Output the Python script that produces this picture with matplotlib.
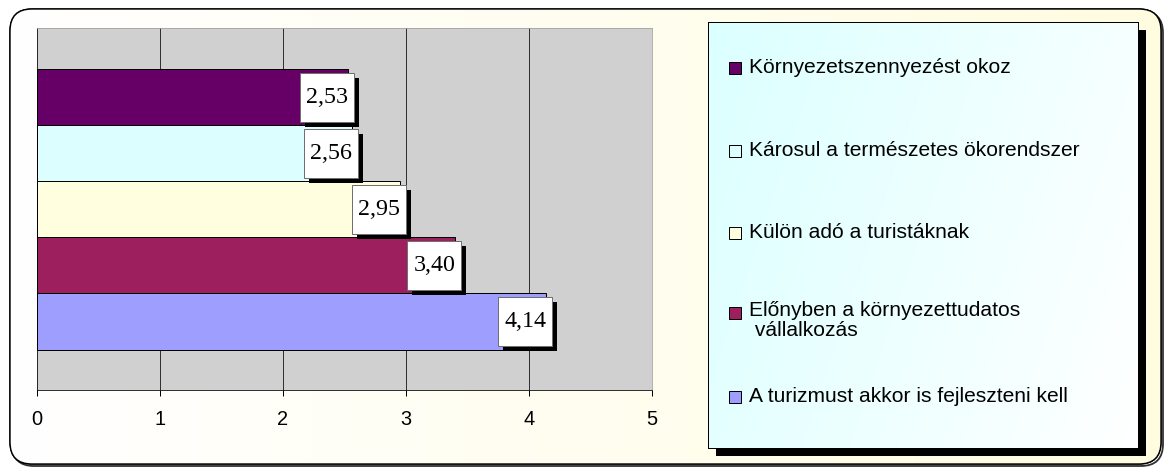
import numpy as np
import matplotlib.pyplot as plt
from matplotlib.patches import FancyBboxPatch, Rectangle
from matplotlib.offsetbox import DrawingArea, AnnotationBbox
from matplotlib.text import Text

# survey answers, listed top to bottom as they appear in the chart
categories = [
    "Környezetszennyezést okoz",
    "Károsul a természetes ökorendszer",
    "Külön adó a turistáknak",
    "Előnyben a környezettudatos\n vállalkozás",
    "A turizmust akkor is fejleszteni kell",
]
values = [2.53, 2.56, 2.95, 3.40, 4.14]
colors = ["#660066", "#DCFEFE", "#FFFFE0", "#9E1F5E", "#9E9EFF"]
xticks = [0, 1, 2, 3, 4, 5]

W, H = 1169, 469
fig = plt.figure(figsize=(W / 72, H / 72), dpi=72)

# background layer in pixel coordinates: rounded frame with a soft gradient
bg = fig.add_axes([0, 0, 1, 1])
bg.set_xlim(0, W)
bg.set_ylim(H, 0)
bg.axis("off")
grad = np.linspace(0, 1, 256)[None, :]
left = np.array([1.0, 1.0, 1.0])
right = np.array([1.0, 0.99, 0.88])
img = left + (right - left) * grad[..., None]
shadow_frame = FancyBboxPatch((12, 11), 1151, 455, boxstyle="round,pad=0,rounding_size=22",
                              fc="none", ec="#303030", lw=1.8, zorder=0)
bg.add_patch(shadow_frame)
frame = FancyBboxPatch((10, 9), 1151, 455, boxstyle="round,pad=0,rounding_size=22",
                       fc="white", ec="black", lw=1.4, zorder=1)
bg.add_patch(frame)
im = bg.imshow(img, extent=(10, 1161, 464, 9), aspect="auto", zorder=2)
im.set_clip_path(frame)
bg.add_patch(FancyBboxPatch((10, 9), 1151, 455, boxstyle="round,pad=0,rounding_size=22",
                            fc="none", ec="black", lw=1.4, zorder=3))

# legend box shadow
bg.add_patch(Rectangle((716, 30), 430, 426, fc="black", ec="none", zorder=4))

# bar chart
ax = fig.add_axes([37 / W, (H - 390) / H, 615 / W, 362 / H])
ax.set_facecolor("#D0D0D0")
pos = np.arange(len(values))
ax.barh(pos, values, height=1.0, color=colors, edgecolor="black", linewidth=1.0, zorder=3)
ax.set_xlim(0, 5)
ax.set_ylim(len(values) - 0.5 + 0.72, -0.5 - 0.73)
ax.set_xticks(xticks)
ax.set_xticklabels([str(t) for t in xticks], fontfamily="Liberation Sans", fontsize=20)
ax.set_yticks([])
ax.tick_params(axis="x", direction="out", length=6, width=1, pad=14, color="black")
for x in xticks[1:-1]:
    ax.axvline(x, color="#202020", lw=0.9, zorder=1)
ax.spines["left"].set_color("black")
ax.spines["bottom"].set_color("black")
ax.spines["top"].set_color("#A0A0A0")
ax.spines["right"].set_color("#A0A0A0")

# value labels: white box with a hard black shadow at the end of each bar
bw, bh, sh = 54, 49, 5
for i, v in enumerate(values):
    da = DrawingArea(bw + sh, bh + sh, 0, 0, clip=False)
    da.add_artist(Rectangle((sh, 0), bw, bh, fc="black", ec="none"))
    da.add_artist(Rectangle((0, sh), bw, bh, fc="white", ec="#707070", lw=1))
    da.add_artist(Text(bw / 2, sh + bh / 2, f"{v:.2f}".replace(".", ","),
                       ha="center", va="center", fontsize=24,
                       fontfamily="Liberation Serif", color="black"))
    ab = AnnotationBbox(da, (v, i), xybox=(-21 + sh / 2, -sh / 2),
                        boxcoords="offset points", frameon=False,
                        box_alignment=(0.5, 0.5), zorder=5)
    ax.add_artist(ab)

# legend panel
lg = fig.add_axes([708 / W, (H - 448) / H, 430 / W, 426 / H])
lg.set_xlim(708, 1138)
lg.set_ylim(448, 22)
lg.set_xticks([])
lg.set_yticks([])
lgrad = np.linspace(0, 1, 256)
lx, ly = np.meshgrid(lgrad, lgrad)
t = np.clip(0.75 * lx + 0.25 * ly, 0, 1)
c0 = np.array([0.86, 1.0, 1.0])
c1 = np.array([1.0, 1.0, 1.0])
limg = c0 + (c1 - c0) * t[..., None]
lg.imshow(limg, extent=(708, 1138, 448, 22), aspect="auto", zorder=0)
for s in lg.spines.values():
    s.set_color("black")
    s.set_linewidth(1.0)

entry_y = [68, 151, 233, 313, 397]
for lab, col, y in zip(categories, colors, entry_y):
    lg.add_patch(Rectangle((729, y - 6), 12, 12, fc=col, ec="black", lw=1, zorder=2))
    if "\n" in lab:
        lg.text(749, y - 12, lab, ha="left", va="top", fontsize=21,
                fontfamily="Liberation Sans", linespacing=1.1, zorder=2)
    else:
        lg.text(749, y, lab, ha="left", va="center", fontsize=21,
                fontfamily="Liberation Sans", zorder=2)

fig.savefig("out.png", dpi=72)
